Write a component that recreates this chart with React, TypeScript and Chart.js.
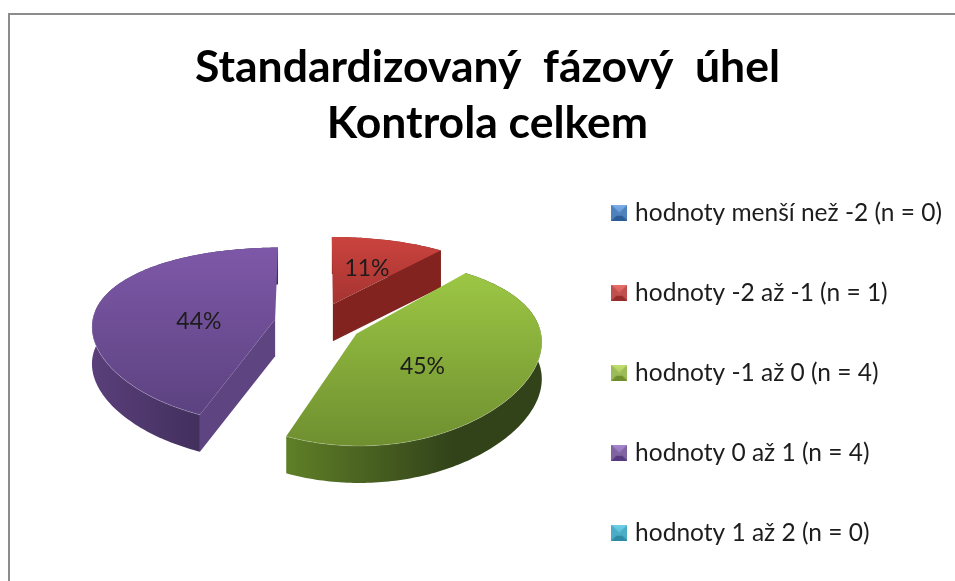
import React, { useEffect, useRef } from "react";
import { Chart, registerables } from "chart.js";

Chart.register(...registerables);

const titleLines = ["Standardizovaný  fázový  úhel", "Kontrola celkem"];
const categories = [
  "hodnoty menší než -2 (n = 0)",
  "hodnoty -2 až -1 (n = 1)",
  "hodnoty -1 až 0 (n = 4)",
  "hodnoty 0 až 1 (n = 4)",
  "hodnoty 1 až 2 (n = 0)",
];
const percentValues = [0, 11, 45, 44, 0];
const explodeOffsets = [0, 44, 44, 44, 0];

const baseColors = ["#4F81BD", "#C0504D", "#9BBB59", "#8064A2", "#4BACC6"];
const faceLight = ["#4F81BD", "#CB433E", "#9CC744", "#7E58A8", "#4BACC6"];
const faceDark = ["#3A6AA0", "#A53431", "#6F8F30", "#5C4280", "#3A90A8"];
const wallLight = ["#2F5480", "#7E2320", "#5F7F27", "#5A3F7A", "#2F7080"];
const wallDark = ["#254060", "#661C1A", "#32431A", "#3F2E5A", "#255866"];
const innerColors = ["#2F5480", "#82231F", "#4A6020", "#5E4480", "#2F7080"];
const boxTop = ["#7FB0E8", "#E8706A", "#C4E070", "#A888D0", "#70D0E8"];
const boxBottom = ["#2C5C96", "#962C2A", "#6E8E2C", "#56397E", "#2C8AA4"];

const labelNudgeX = [0, 4, -19, 16, 0];
const labelNudgeY = [0, 0, 8, 11, 0];

// View of the pie: tilt and perspective of the ground plane, moved from the chart area's centre.
const TILT = 0.472;
const PERSPECTIVE_Y = 0.00103;
const PERSPECTIVE_X = 0.0004;
const DEPTH = 37;
const VIEW_SHIFT_X = 26.5;
const VIEW_SHIFT_Y = -59.5;

function makeBox(i: number) {
  const c = document.createElement("canvas");
  c.width = 16;
  c.height = 16;
  const g = c.getContext("2d")!;
  g.fillStyle = baseColors[i];
  g.fillRect(0, 0, 16, 16);
  const gr = g.createLinearGradient(0, 0, 0, 16);
  gr.addColorStop(0, boxTop[i]);
  gr.addColorStop(1, baseColors[i]);
  g.fillStyle = gr;
  g.beginPath();
  g.moveTo(0, 0);
  g.lineTo(16, 0);
  g.lineTo(8, 8);
  g.closePath();
  g.fill();
  g.fillStyle = boxBottom[i];
  g.beginPath();
  g.moveTo(0, 16);
  g.lineTo(16, 16);
  g.lineTo(11, 11);
  g.lineTo(5, 11);
  g.closePath();
  g.fill();
  return c;
}

const pie3d = {
  id: "pie3d",
  beforeDatasetDraw(chart: any) {
    const ctx: CanvasRenderingContext2D = chart.ctx;
    const arcs = chart.getDatasetMeta(0).data;
    const project = (arc: any, gx: number, gy: number) => {
      return [
        arc.x + VIEW_SHIFT_X + gx / (1 - PERSPECTIVE_X * gy),
        arc.y + VIEW_SHIFT_Y + (TILT * gy) / (1 - PERSPECTIVE_Y * gy),
      ];
    };
    arcs.forEach((arc: any, i: number) => {
      if (arc.endAngle - arc.startAngle <= 0) return;
      const r = arc.outerRadius;
      const off = explodeOffsets[i];
      const a0 = arc.startAngle + Math.PI / 2;
      const a1 = arc.endAngle + Math.PI / 2;
      const mid = (a0 + a1) / 2;
      const ox = off * Math.sin(mid);
      const oy = -off * Math.cos(mid);
      const apex = project(arc, ox, oy);
      const rim: number[][] = [];
      const steps = Math.ceil(((a1 - a0) * 180) / Math.PI);
      for (let s = 0; s <= steps; s++) {
        const t = a0 + ((a1 - a0) * s) / steps;
        rim.push(project(arc, ox + r * Math.sin(t), oy - r * Math.cos(t)));
      }
      const xs = rim.map((p) => p[0]).concat(apex[0]);
      const ys = rim.map((p) => p[1]).concat(apex[1]);
      const minX = Math.min(...xs);
      const maxX = Math.max(...xs);
      const minY = Math.min(...ys);
      const maxY = Math.max(...ys);

      // outer wall
      const wg = ctx.createLinearGradient(minX, 0, maxX, 0);
      wg.addColorStop(0, wallLight[i]);
      wg.addColorStop(0.65, wallDark[i]);
      wg.addColorStop(1, wallDark[i]);
      ctx.fillStyle = wg;
      ctx.beginPath();
      rim.forEach((p, k) => (k ? ctx.lineTo(p[0], p[1]) : ctx.moveTo(p[0], p[1])));
      for (let k = rim.length - 1; k >= 0; k--) ctx.lineTo(rim[k][0], rim[k][1] + DEPTH);
      ctx.closePath();
      ctx.fill();

      // cut faces that look towards the viewer
      const quad = (p: number[]) => {
        ctx.fillStyle = innerColors[i];
        ctx.beginPath();
        ctx.moveTo(apex[0], apex[1]);
        ctx.lineTo(p[0], p[1]);
        ctx.lineTo(p[0], p[1] + DEPTH);
        ctx.lineTo(apex[0], apex[1] + DEPTH);
        ctx.closePath();
        ctx.fill();
      };
      if (Math.sin(a0) < -1e-6) quad(rim[0]);
      if (Math.sin(a1) > 1e-6) quad(rim[rim.length - 1]);

      // top face
      const tg = ctx.createLinearGradient(0, minY, 0, maxY);
      tg.addColorStop(0, faceLight[i]);
      tg.addColorStop(1, faceDark[i]);
      ctx.fillStyle = tg;
      ctx.beginPath();
      ctx.moveTo(apex[0], apex[1]);
      rim.forEach((p) => ctx.lineTo(p[0], p[1]));
      ctx.closePath();
      ctx.fill();

      // soft highlight on the front rim
      ctx.strokeStyle = "rgba(255,255,255,0.2)";
      ctx.lineWidth = 1;
      ctx.beginPath();
      let pen = false;
      rim.forEach((p, k) => {
        const t = a0 + ((a1 - a0) * k) / steps;
        if (-Math.cos(t) > -0.1) {
          if (pen) ctx.lineTo(p[0], p[1]);
          else ctx.moveTo(p[0], p[1]);
          pen = true;
        }
      });
      ctx.stroke();

      // percentage
      const rho = off + r * 0.52;
      const lp = project(arc, rho * Math.sin(mid), -rho * Math.cos(mid));
      ctx.fillStyle = "#1c1c1c";
      ctx.font = "23px Lato";
      ctx.textAlign = "center";
      ctx.textBaseline = "middle";
      ctx.fillText(percentValues[i] + "%", lp[0] + labelNudgeX[i], lp[1] + labelNudgeY[i]);
    });
    return false;
  },
};

export default function App() {
  const ref = useRef<HTMLCanvasElement>(null);
  useEffect(() => {
    const boxes = baseColors.map((_, i) => makeBox(i));
    const chart = new Chart(ref.current!, {
      type: "pie",
      data: {
        labels: categories,
        datasets: [
          {
            data: percentValues,
            backgroundColor: baseColors,
            borderWidth: 0,
            radius: 183,
            clip: false,
          } as any,
        ],
      },
      plugins: [pie3d],
      options: {
        animation: false,
        responsive: false,
        layout: { padding: { left: 23, right: 3, top: 0, bottom: 0 } },
        plugins: {
          tooltip: { enabled: false },
          title: {
            display: true,
            text: titleLines,
            color: "#000000",
            font: { family: "Lato", size: 44.5, weight: "bold", lineHeight: 56 / 44.5 },
            padding: { top: 40, bottom: -7 },
          },
          legend: {
            position: "right",
            align: "start",
            fullSize: false,
            labels: {
              font: { family: "Lato", size: 24.5 },
              color: "#1c1c1c",
              boxWidth: 16,
              boxHeight: 16,
              padding: 55.5,
              usePointStyle: true,
              pointStyleWidth: 7,
              generateLabels: (c: any) =>
                (Chart as any).overrides.pie.plugins.legend.labels
                  .generateLabels(c)
                  .map((it: any, i: number) => ({ ...it, pointStyle: boxes[i], hidden: false })),
            },
          },
        },
      },
    });
    return () => chart.destroy();
  }, []);
  return (
    <div style={{ position: "fixed", left: 0, top: 0, width: 955, height: 581, overflow: "hidden", background: "#fff" }}>
      <canvas ref={ref} width={955} height={620} style={{ display: "block" }} />
      <div
        style={{
          position: "absolute",
          left: 8,
          top: 13,
          width: 947,
          height: 568,
          boxSizing: "border-box",
          borderTop: "2px solid #8c8c8c",
          borderLeft: "2px solid #8c8c8c",
        }}
      />
    </div>
  );
}
